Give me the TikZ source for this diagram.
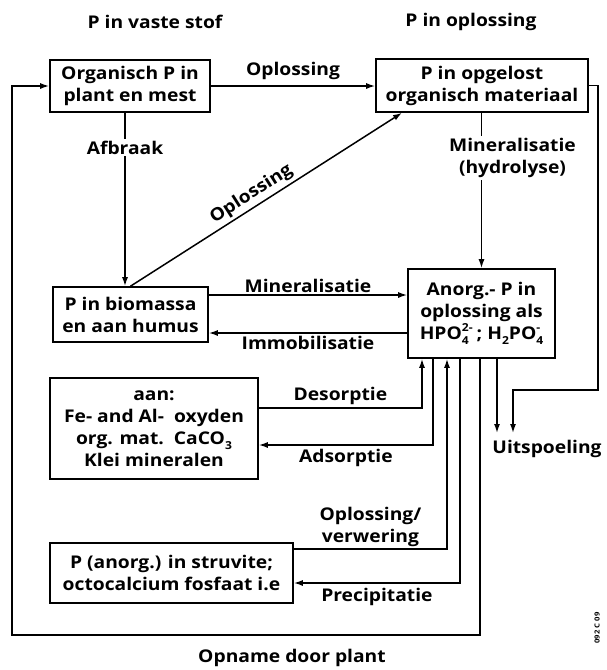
\documentclass[tikz,border=0pt]{standalone}
\usepackage{fontspec}
\setmainfont{Open Sans}[FakeStretch=1.1]
\usetikzlibrary{arrows.meta}
\newcommand{\boxfont}{\bfseries\fontsize{17.5}{22}\selectfont}
\newcommand{\smallidx}[1]{{\fontsize{11}{11}\selectfont #1}}
\newcommand{\subsup}[2]{\makebox[0pt][l]{\raisebox{0.8ex}{\smallidx{#2}}}\raisebox{-0.55ex}{\smallidx{#1}}}
\newcommand{\subonly}[1]{\raisebox{-0.55ex}{\smallidx{#1}}}
\tikzset{
  box/.style={draw, line width=1.6pt, align=center, inner sep=0pt, font=\boxfont},
  arr/.style={line width=1.5pt, -{Latex[length=9pt,width=6pt]}},
  lbl/.style={font=\boxfont, inner sep=2pt, align=center},
}
\begin{document}
\begin{tikzpicture}[x=1pt,y=-1pt]
\useasboundingbox (0,0) rectangle (606,670);
% titles
\node[lbl] (t1) at (155,22) {P in vaste stof};
\node[lbl] (t2) at (471,22) {P in oplossing};
% boxes
\node[box, minimum width=160pt, minimum height=52pt] (A) at (130,86) {Organisch P in\\plant en mest};
\node[box, minimum width=212pt, minimum height=53pt] (B) at (482,85.5) {P in opgelost\\organisch materiaal};
\node[box, minimum width=155pt, minimum height=55pt] (D) at (130.5,314.5) {P in biomassa\\en aan humus};
\node[box, minimum width=147pt, minimum height=89pt] (C) at (481.5,313.5) {Anorg.- P in\\oplossing als\\HPO\subsup{4}{2-}\ \,; H\subonly{2}PO\subsup{4}{-}};
\node[box, minimum width=208pt, minimum height=101pt] (E) at (154,428.5) {aan:\\Fe- and Al-\ \ oxyden\\org. mat.\ \ CaCO\subonly{3}\\Klei mineralen};
\node[box, minimum width=243pt, minimum height=60pt] (F) at (171.5,573) {P (anorg.) in struvite;\\octocalcium fosfaat i.e};
% helper coordinates
\coordinate (afx) at (125,0);
\coordinate (dgx) at (402,0);
\coordinate (m1) at (0,295);
\coordinate (m2) at (0,333);
\coordinate (des) at (422,408);
\coordinate (ads) at (433,445);
\coordinate (opl) at (447,549);
\coordinate (pre) at (460,583);
\coordinate (opx) at (480,0);
\coordinate (bl) at (12,635);
\coordinate (u1) at (497,433);
\coordinate (rr) at (598,390);
\coordinate (u2) at (513,433);
% connectors
\draw[arr] (A.east) -- (B.west |- A.east) node[midway, above=4pt, lbl] (lop) {Oplossing};
\draw[arr] (A.south -| afx) -- (D.north -| afx) node[pos=0.2, lbl, fill=white] (laf) {Afbraak};
\draw[arr] (B.south -| C.north) -- (C.north) node[pos=0.29, lbl, fill=white, xshift=31pt] (lmh) {Mineralisatie\\(hydrolyse)};
\draw[arr] (D.north) -- (B.south -| dgx) node[pos=0.47, lbl, above=1pt, sloped] (lod) {Oplossing};
\draw[arr] (D.east |- m1) -- (C.west |- m1) node[midway, above=0pt, lbl] (lmi) {Mineralisatie};
\draw[arr] (C.west |- m2) -- (D.east |- m2) node[midway, below=0pt, lbl] (lim) {Immobilisatie};
\draw[arr] (E.east |- des) -| (C.south -| des) node[pos=0.25, above=1pt, lbl] (lde) {Desorptie};
\draw[arr] (C.south -| ads) |- (E.east |- ads) node[pos=0.75, below=1pt, lbl] (lad) {Adsorptie};
\draw[arr] (F.east |- opl) -| (C.south -| opl) node[pos=0.25, above=0pt, lbl] (lov) {Oplossing/\\verwering};
\draw[arr] (C.south -| pre) |- (F.east |- pre) node[pos=0.75, below=2pt, lbl] (lpr) {Precipitatie};
\draw[arr] (C.south -| opx) |- (bl) |- (A.west);
\draw[arr] (C.south -| u1) -- (u1);
\draw[arr] (B.east) -| (rr) -| (u2);
% free labels
\node[lbl] (uit) at (547,449) {Uitspoeling};
\node[lbl] (opn) at (292,658) {Opname door plant};
\node[rotate=90, font=\bfseries\fontsize{7}{7}\selectfont, inner sep=0pt] (code) at (597,628) {092 C 09};
\end{tikzpicture}
\end{document}
